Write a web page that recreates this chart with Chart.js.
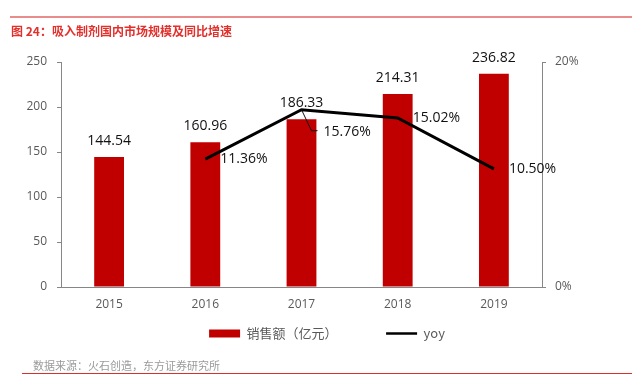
<!DOCTYPE html>
<html lang="zh">
  <head>
    <meta charset="utf-8">
    <title>吸入制剂国内市场规模及同比增速</title>
    <style>
      body {padding: 0; margin: 0; background: #fff;}
      #wrap {position: relative; width: 632px; height: 388px; overflow: hidden;}
      #wrap canvas {position: absolute; left: 0; top: 0;}
      .topline {position: absolute; left: 10px; top: 16px; width: 622px; height: 2px; background: #E98C8C;}
      .title {position: absolute; left: 11px; top: 22px; font: bold 12px "Noto Sans CJK SC", sans-serif; color: #E2302C; white-space: nowrap;}
      .source {position: absolute; left: 33px; top: 357px; font: 11px "Noto Sans CJK SC", sans-serif; color: #9A9A9A; white-space: nowrap;}
      .bottomline {position: absolute; left: 22px; top: 373px; width: 610px; height: 1px; background: #D8312C;}
    </style>
    <script src="https://cdn.jsdelivr.net/npm/chart.js@4/dist/chart.umd.min.js"></script>
  </head>
  <body>
    <div id="wrap">
      <canvas id="marketChart" width="632" height="388"></canvas>
      <div class="topline"></div>
      <div class="title">图 24：吸入制剂国内市场规模及同比增速</div>
      <div class="source">数据来源：火石创造，东方证券研究所</div>
      <div class="bottomline"></div>
    </div>
    <script>

      // values
      const years = ['2015', '2016', '2017', '2018', '2019'];
      const sales = [144.54, 160.96, 186.33, 214.31, 236.82];   // 销售额（亿元）
      const yoy = [null, 11.36, 15.76, 15.02, 10.50];           // %
      const leftTicks = [0, 50, 100, 150, 200, 250];
      const rightTicks = [0, 20];

      const barColor = '#C00000';
      const tickColor = '#595959';
      const axisColor = '#868686';

      // little labels on bars and on the yoy line
      const valueLabels = {
        id: 'valueLabels',
        afterDatasetsDraw(chart) {
          const ctx = chart.ctx;
          ctx.save();
          ctx.font = '14px "Open Sans", sans-serif';
          ctx.fillStyle = '#111';
          ctx.textBaseline = 'middle';

          // bars: value centred above each bar
          ctx.textAlign = 'center';
          chart.getDatasetMeta(0).data.forEach((el, i) => {
            ctx.fillText(sales[i].toFixed(2), el.x, el.y - 16);
          });

          // line: value to the right of each point, 2017 pushed down with a leader
          ctx.textAlign = 'left';
          chart.getDatasetMeta(1).data.forEach((el, i) => {
            if (yoy[i] == null) return;
            const txt = yoy[i].toFixed(2) + '%';
            if (i === 2) {
              ctx.strokeStyle = '#111';
              ctx.lineWidth = 1;
              ctx.beginPath();
              ctx.moveTo(el.x, el.y);
              ctx.lineTo(el.x + 10, el.y + 21);
              ctx.lineTo(el.x + 16, el.y + 21);
              ctx.stroke();
              ctx.fillText(txt, el.x + 22, el.y + 22);
            } else {
              ctx.fillText(txt, el.x + 15, el.y);
            }
          });
          ctx.restore();
        }
      };

      const ctx = document.getElementById('marketChart').getContext('2d');
      const chart = new Chart(ctx, {
        data: {
          labels: years,
          datasets: [
            {
              type: 'bar',
              label: '销售额（亿元）',
              data: sales,
              backgroundColor: barColor,
              borderWidth: 0,
              categoryPercentage: 1,
              barPercentage: 0.31,
              yAxisID: 'y',
              order: 1
            },
            {
              type: 'line',
              label: 'yoy',
              data: yoy,
              borderColor: '#000',
              borderWidth: 3,
              pointRadius: 0,
              tension: 0,
              yAxisID: 'y1',
              order: 0
            }
          ]
        },
        options: {
          responsive: false,
          animation: false,
          layout: {padding: {left: 22, right: 0, top: 62, bottom: 38}},
          plugins: {
            tooltip: {enabled: false},
            legend: {
              position: 'bottom',
              labels: {
                usePointStyle: true,
                pointStyleWidth: 31,
                boxHeight: 8,
                padding: 16,
                color: tickColor,
                font: {family: '"Noto Sans CJK SC", sans-serif', size: 13},
                generateLabels: () => [
                  {text: '销售额（亿元）\u3000\u3000\u3000', fillStyle: barColor, strokeStyle: barColor,
                   lineWidth: 0, pointStyle: 'rect', fontColor: tickColor, datasetIndex: 0},
                  {text: 'yoy', fillStyle: '#000', strokeStyle: '#000',
                   lineWidth: 2.5, pointStyle: 'line', fontColor: tickColor, datasetIndex: 1}
                ]
              }
            }
          },
          scales: {
            x: {
              afterFit: (s) => { s.height = 24; },
              grid: {display: false, drawTicks: false},
              border: {display: true, color: axisColor, width: 1},
              ticks: {color: tickColor, padding: 10, font: {family: '"Open Sans", sans-serif', size: 12}}
            },
            y: {
              position: 'left',
              min: 0,
              max: 250,
              afterBuildTicks: (s) => { s.ticks = leftTicks.map(v => ({value: v})); },
              afterFit: (s) => { s.width = 39; },
              grid: {drawOnChartArea: false, drawTicks: true, tickLength: 4, color: axisColor},
              border: {display: true, color: axisColor, width: 1},
              ticks: {color: tickColor, padding: 10, font: {family: '"Open Sans", sans-serif', size: 12}}
            },
            y1: {
              position: 'right',
              min: 0,
              max: 20,
              afterBuildTicks: (s) => { s.ticks = rightTicks.map(v => ({value: v})); },
              afterFit: (s) => { s.width = 90; },
              grid: {drawOnChartArea: false, drawTicks: true, tickLength: 4, color: axisColor},
              border: {display: true, color: axisColor, width: 1},
              ticks: {
                color: tickColor,
                padding: 9,
                font: {family: '"Open Sans", sans-serif', size: 12},
                callback: (v) => v + '%'
              }
            }
          }
        },
        plugins: [valueLabels]
      });
    </script>
  </body>
</html>
